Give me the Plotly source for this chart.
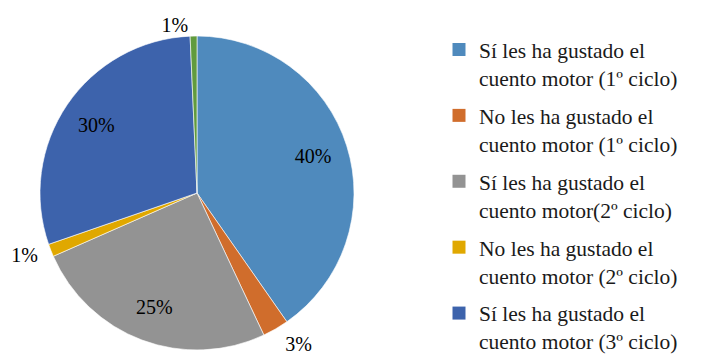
import plotly.graph_objects as go

labels = [
    "Sí les ha gustado el<br>cuento motor (1º ciclo)",
    "No les ha gustado el<br>cuento motor (1º ciclo)",
    "Sí les ha gustado el<br>cuento motor(2º ciclo)",
    "No les ha gustado el<br>cuento motor (2º ciclo)",
    "Sí les ha gustado el<br>cuento motor (3º ciclo)",
    "No les ha gustado el<br>cuento motor (3º ciclo)",
]
values = [40.3, 2.7, 25.4, 1.3, 29.6, 0.7]
colors = ["#4F8ABD", "#D06D2C", "#939393", "#E0A800", "#3D63AC", "#619B3E"]
label_inside = [True, False, True, False, True, False]
label_pull = [0, 0.05, 0, 0.05, 0, 0]

W, H = 701, 358
cx, cy, r = 197, 193, 157
SERIF = "Times New Roman, Liberation Serif, DejaVu Serif, serif"
dom = dict(x=[(cx - r) / W, (cx + r) / W], y=[1 - (cy + r) / H, 1 - (cy - r) / H])
big = H - cy  # largest half-size that still fits below the centre
dom_out = dict(x=[(cx - big) / W, (cx + big) / W], y=[0, 1 - (cy - big) / H])
transparent = ["rgba(0,0,0,0)"] * len(values)

fig = go.Figure()
# the pie itself
fig.add_trace(go.Pie(
    labels=labels, values=values, sort=False,
    direction="clockwise", rotation=0,
    marker=dict(colors=colors, line=dict(color="white", width=0.6)),
    textinfo="none",
    showlegend=False, domain=dom,
    hoverinfo="label+percent",
))
# transparent ring: inside labels further out from the centre
fig.add_trace(go.Pie(
    labels=labels, values=values, sort=False,
    direction="clockwise", rotation=0, hole=0.55,
    marker=dict(colors=transparent, line=dict(width=0)),
    texttemplate=["%{percent:.0%}" if ins else "" for ins in label_inside],
    textposition="inside", insidetextorientation="horizontal",
    textfont=dict(family=SERIF, size=20, color="black"),
    showlegend=False, domain=dom, hoverinfo="skip",
))
# transparent pie of the same radius: outside labels for the small slices
fig.add_trace(go.Pie(
    labels=labels, values=values, sort=False,
    direction="clockwise", rotation=0, pull=label_pull,
    marker=dict(colors=transparent, line=dict(width=0)),
    texttemplate=["" if ins else "%{percent:.0%}" for ins in label_inside],
    textposition="outside",
    textfont=dict(family=SERIF, size=20, color="black"),
    showlegend=False, domain=dom_out, hoverinfo="skip",
))

# legend entries (one group per category so the entries are spaced like the original)
for i, (lab, col) in enumerate(zip(labels, colors)):
    fig.add_trace(go.Scatter(
        x=[None], y=[None], mode="markers",
        marker=dict(symbol="square", size=13, color=col),
        name=lab, legendgroup=f"g{i}", showlegend=True,
        hoverinfo="skip",
    ))

fig.update_layout(
    width=W, height=H,
    margin=dict(l=0, r=0, t=0, b=0, autoexpand=False),
    paper_bgcolor="white",
    plot_bgcolor="white",
    font=dict(family=SERIF, size=20, color="black"),
    xaxis=dict(visible=False),
    yaxis=dict(visible=False),
    legend=dict(
        x=439 / W, xanchor="left",
        y=1 - 29 / H, yanchor="top",
        font=dict(family=SERIF, size=21.5, color="#1a1a1a"),
        valign="top",
        tracegroupgap=7,
        bgcolor="rgba(0,0,0,0)",
        maxheight=600,
    ),
    showlegend=True,
)

fig.write_html("out.html")
